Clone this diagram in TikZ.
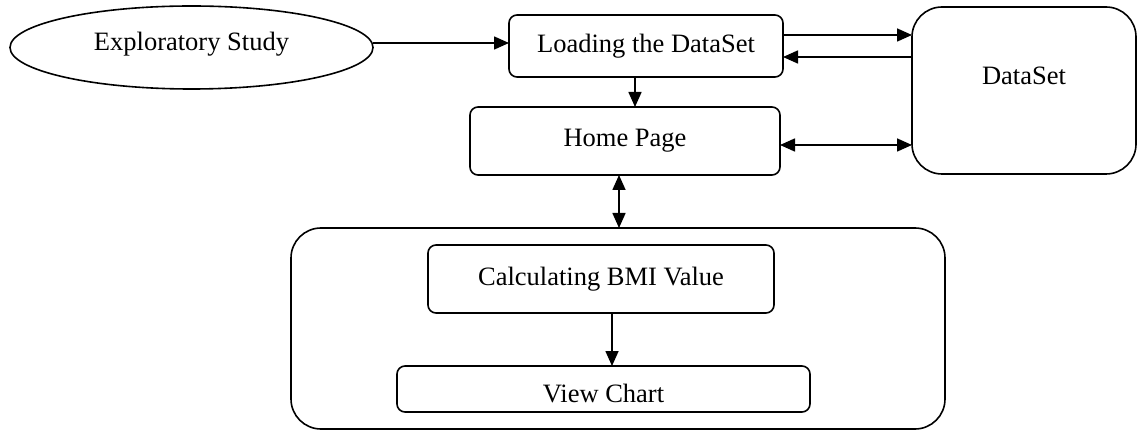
\documentclass[tikz,border=0pt]{standalone}
\usepackage{fontspec}
\setmainfont{Liberation Serif}
\usetikzlibrary{arrows.meta,shapes.geometric}
\begin{document}
\begin{tikzpicture}[x=1pt,y=-1pt,
  lbl/.style={font=\fontsize{26.5}{29}\selectfont},
  box/.style={draw, line width=1.6pt, rounded corners=8pt, inner sep=0pt, outer sep=0pt, lbl},
  bigbox/.style={draw, line width=1.6pt, rounded corners=30pt, inner sep=0pt, outer sep=0pt, lbl},
  ell/.style={draw, ellipse, line width=1.6pt, inner sep=0pt, outer sep=0pt, lbl},
  arr/.style={line width=1.6pt, -{Triangle[length=15pt,width=13pt]}},
  darr/.style={line width=1.6pt, {Triangle[length=15pt,width=13pt]}-{Triangle[length=15pt,width=13pt]}}
]
\useasboundingbox (0,0) rectangle (1138,430);
\node[ell, minimum width=363pt, minimum height=83pt,
      label={[lbl,yshift=3pt]center:Exploratory Study}] (es) at (191.5,47.5) {};
\node[box, minimum width=274pt, minimum height=62pt] (ld) at (646,46) {Loading the DataSet};
\node[box, minimum width=310pt, minimum height=68pt] (hp) at (625,141) {Home Page};
\node[bigbox, minimum width=224pt, minimum height=167pt,
      label={[lbl,yshift=15pt]center:DataSet}] (ds) at (1024,90.5) {};
\node[bigbox, minimum width=654pt, minimum height=201pt] (mod) at (618,328.5) {};
\node[box, minimum width=346pt, minimum height=68pt] (calc) at (601,279) {Calculating BMI Value};
\node[box, minimum width=413pt, minimum height=46pt,
      label={[lbl,yshift=-5pt]center:View Chart}] (vc) at (603.5,389) {};
\draw[arr] (es.east |- 0,43) -- (ld.west |- 0,43);
\draw[arr] (ld.east |- 0,35) -- (ds.west |- 0,35);
\draw[arr] (ds.west |- 0,57) -- (ld.east |- 0,57);
\draw[arr] (ld.south -| 635,0) -- (hp.north -| 635,0);
\draw[darr] (hp.east |- 0,145) -- (ds.west |- 0,145);
\draw[darr] (hp.south -| 619,0) -- (mod.north -| 619,0);
\draw[arr] (calc.south -| 612,0) -- (vc.north -| 612,0);
\end{tikzpicture}
\end{document}
